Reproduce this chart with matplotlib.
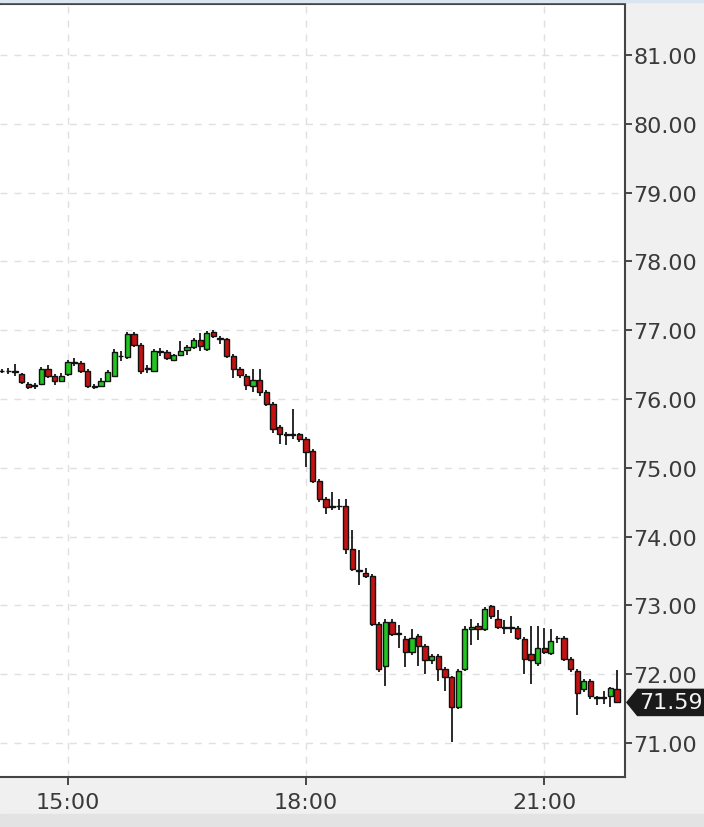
import pandas as pd
import matplotlib
matplotlib.use("Agg")
import matplotlib.pyplot as plt
import matplotlib.dates as mdates
from matplotlib.patches import Polygon, Rectangle
from matplotlib.transforms import blended_transform_factory

# 5 minute candles, 14:10 .. 21:55
times = pd.date_range("2024-03-04 14:10", periods=94, freq="5min")

opens = [76.40, 76.41, 76.40, 76.36, 76.22, 76.19, 76.22, 76.44, 76.34, 76.26,
         76.36, 76.54, 76.52, 76.41, 76.19, 76.19, 76.26, 76.34, 76.63, 76.61,
         76.94, 76.78, 76.43, 76.41, 76.69, 76.68, 76.57, 76.64, 76.71, 76.75,
         76.86, 76.73, 76.98, 76.88, 76.87, 76.63, 76.44, 76.33, 76.19, 76.27,
         76.10, 75.93, 75.59, 75.49, 75.48, 75.49, 75.42, 75.24, 74.81, 74.55,
         74.43, 74.44, 74.44, 73.82, 73.50, 73.47, 73.43, 72.73, 72.12, 72.76,
         72.58, 72.51, 72.32, 72.55, 72.41, 72.20, 72.27, 72.08, 71.96, 71.53,
         72.08, 72.66, 72.70, 72.66, 72.99, 72.80, 72.67, 72.67, 72.67, 72.51,
         72.29, 72.17, 72.38, 72.31, 72.52, 72.53, 72.22, 72.05, 71.78, 71.90,
         71.66, 71.66, 71.68, 71.78]
highs = [76.43, 76.45, 76.51, 76.38, 76.25, 76.23, 76.47, 76.50, 76.37, 76.38,
         76.56, 76.60, 76.55, 76.43, 76.22, 76.30, 76.42, 76.72, 76.70, 76.97,
         76.98, 76.81, 76.50, 76.73, 76.74, 76.71, 76.66, 76.85, 76.78, 76.88,
         76.96, 76.99, 77.00, 76.92, 76.89, 76.66, 76.47, 76.36, 76.44, 76.44,
         76.13, 75.96, 75.62, 75.52, 75.85, 75.51, 75.45, 75.27, 74.84, 74.58,
         74.65, 74.55, 74.55, 74.10, 73.80, 73.55, 73.46, 72.76, 72.80, 72.80,
         72.72, 72.55, 72.65, 72.58, 72.44, 72.30, 72.30, 72.10, 71.98, 72.08,
         72.70, 72.80, 72.74, 72.97, 73.00, 72.93, 72.79, 72.84, 72.70, 72.54,
         72.70, 72.70, 72.67, 72.65, 72.56, 72.56, 72.25, 72.08, 71.93, 71.93,
         71.68, 71.75, 71.82, 72.06]
lows = [76.38, 76.37, 76.33, 76.22, 76.15, 76.15, 76.20, 76.30, 76.20, 76.24,
        76.34, 76.48, 76.38, 76.16, 76.15, 76.17, 76.24, 76.32, 76.55, 76.58,
        76.76, 76.36, 76.38, 76.39, 76.62, 76.57, 76.55, 76.62, 76.64, 76.73,
        76.70, 76.70, 76.89, 76.80, 76.60, 76.30, 76.30, 76.13, 76.10, 76.05,
        75.90, 75.50, 75.35, 75.33, 75.42, 75.38, 75.01, 74.78, 74.50, 74.33,
        74.38, 74.38, 73.75, 73.50, 73.30, 73.40, 72.70, 72.03, 71.83, 72.55,
        72.38, 72.10, 72.28, 72.12, 72.00, 72.15, 71.90, 71.75, 71.01, 71.50,
        72.05, 72.42, 72.50, 72.63, 72.80, 72.66, 72.58, 72.60, 72.50, 72.00,
        71.86, 72.12, 72.30, 72.28, 72.45, 72.19, 72.03, 71.40, 71.74, 71.64,
        71.55, 71.57, 71.52, 71.58]
closes = [76.40, 76.40, 76.39, 76.25, 76.18, 76.20, 76.44, 76.34, 76.26, 76.34,
          76.54, 76.53, 76.41, 76.19, 76.18, 76.26, 76.39, 76.68, 76.62, 76.94,
          76.78, 76.41, 76.45, 76.70, 76.68, 76.60, 76.64, 76.70, 76.75, 76.86,
          76.77, 76.96, 76.91, 76.87, 76.63, 76.44, 76.35, 76.20, 76.27, 76.10,
          75.93, 75.56, 75.49, 75.48, 75.49, 75.42, 75.23, 74.81, 74.55, 74.43,
          74.44, 74.45, 73.82, 73.53, 73.50, 73.43, 72.73, 72.08, 72.76, 72.58,
          72.58, 72.32, 72.53, 72.41, 72.20, 72.27, 72.08, 71.96, 71.53, 72.05,
          72.66, 72.68, 72.66, 72.95, 72.84, 72.69, 72.67, 72.68, 72.53, 72.22,
          72.20, 72.38, 72.33, 72.48, 72.53, 72.22, 72.07, 71.73, 71.90, 71.68,
          71.65, 71.66, 71.80, 71.59]

last_price = 71.59
y_ticks = [71, 72, 73, 74, 75, 76, 77, 78, 79, 80, 81]
x_tick_times = ["2024-03-04 15:00", "2024-03-04 18:00", "2024-03-04 21:00"]
x_tick_labels = ["15:00", "18:00", "21:00"]

fig = plt.figure(figsize=(7.04, 8.28), dpi=100, facecolor="#f0f0f0")
fig.patches.append(Rectangle((0, 1 - 3 / 828), 1, 3 / 828, transform=fig.transFigure,
                             color="#d9e6f2", zorder=0))
fig.patches.append(Rectangle((0, 0), 1, 13 / 828, transform=fig.transFigure,
                             color="#e3e3e3", zorder=0))
ax = fig.add_axes([0, 50 / 828, 625 / 704, 773 / 828])
ax.set_facecolor("white")

x = mdates.date2num(times)
step = 5 / (24 * 60)
width = step * 0.8
up_col, down_col = "#22c422", "#c41212"

ax.vlines(x, lows, highs, color="#2a2a2a", lw=1.4, zorder=2)
for xi, o, c in zip(x, opens, closes):
    bottom = min(o, c)
    height = max(abs(c - o), 0.012)
    col = up_col if c > o else down_col
    ax.bar(xi, height, width=width, bottom=bottom, color=col,
           edgecolor="#111111", linewidth=1.0, zorder=3)

ax.set_ylim(70.506, 81.741)
ax.set_xlim(mdates.date2num(pd.Timestamp("2024-03-04 14:08:42")),
            mdates.date2num(pd.Timestamp("2024-03-04 22:01:06")))

ax.yaxis.tick_right()
ax.set_yticks(y_ticks)
ax.set_yticklabels([f"{v:.2f}" for v in y_ticks])
ax.set_xticks(mdates.date2num(pd.to_datetime(x_tick_times)))
ax.set_xticklabels(x_tick_labels)
ax.tick_params(axis="y", direction="out", length=5, width=1.3, colors="#3a3a3a",
               labelsize=16, pad=1, labelcolor="#3a3a3a")
ax.tick_params(axis="x", direction="out", length=6, width=1.3, colors="#3a3a3a",
               labelsize=16, pad=5, labelcolor="#3a3a3a")

ax.grid(True, linestyle=(0, (5, 5)), color="#e0e0e0", lw=1, zorder=0)
ax.set_axisbelow(True)
ax.spines["left"].set_visible(False)
for side in ["top", "right", "bottom"]:
    ax.spines[side].set_color("#444444")
    ax.spines[side].set_linewidth(1.5)

# last price tag
tr = blended_transform_factory(ax.transAxes, ax.transData)
h = 0.19
tag = Polygon([(1.003, last_price), (1.02, last_price + h), (1.13, last_price + h),
               (1.13, last_price - h), (1.02, last_price - h)],
              closed=True, transform=tr, clip_on=False, color="#1a1a1a", zorder=5)
ax.add_patch(tag)
ax.text(1.073, last_price, f"{last_price:.2f}", transform=tr, color="#f4f4f4",
        fontsize=16, ha="center", va="center", zorder=6, clip_on=False)

fig.savefig("out.png", dpi=100, facecolor=fig.get_facecolor())
